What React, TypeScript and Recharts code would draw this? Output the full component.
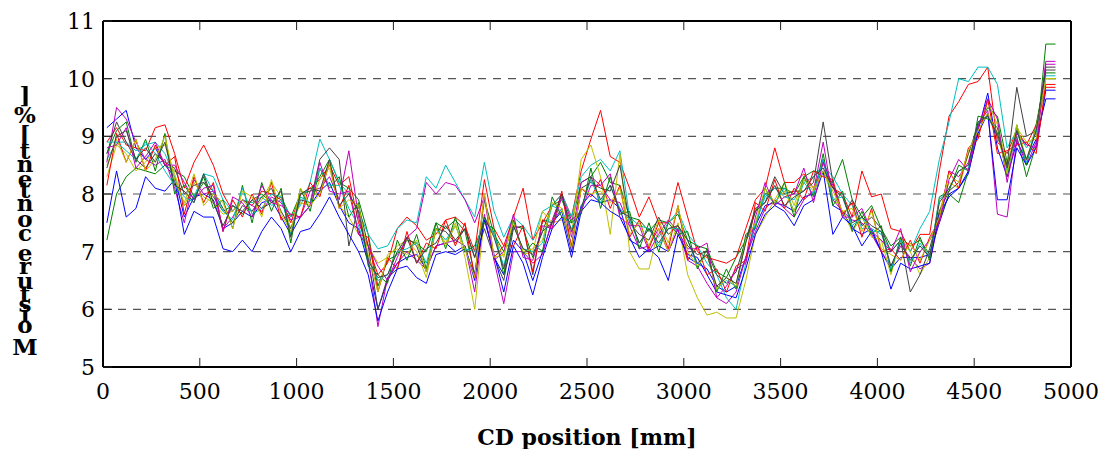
import { LineChart, Line, XAxis, YAxis, CartesianGrid } from 'recharts';

// CD positions [mm] of the scanner samples
const positions = [
  20, 70, 120, 170, 220, 270, 320, 370, 420, 470,
  520, 570, 620, 670, 720, 770, 820, 870, 920, 970,
  1020, 1070, 1120, 1170, 1220, 1270, 1320, 1370, 1420, 1470,
  1520, 1570, 1620, 1670, 1720, 1770, 1820, 1870, 1920, 1970,
  2020, 2070, 2120, 2170, 2220, 2270, 2320, 2370, 2420, 2470,
  2520, 2570, 2620, 2670, 2720, 2770, 2820, 2870, 2920, 2970,
  3020, 3070, 3120, 3170, 3220, 3270, 3320, 3370, 3420, 3470,
  3520, 3570, 3620, 3670, 3720, 3770, 3820, 3870, 3920, 3970,
  4020, 4070, 4120, 4170, 4220, 4270, 4320, 4370, 4420, 4470,
  4520, 4570, 4620, 4670, 4720, 4770, 4820, 4870, 4920,
];

const xTicks = [0, 500, 1000, 1500, 2000, 2500, 3000, 3500, 4000, 4500, 5000];
const yTicks = [5, 6, 7, 8, 9, 10, 11];

// moisture profiles [%], one per scan
const scanB1 = [
  9.15, 9.3, 9.45, 8.8, 8.6, 8.8, 8.5, 8.3, 7.6, 7.95,
  8.0, 7.9, 7.4, 7.5, 7.7, 7.6, 7.85, 7.9, 7.6, 7.3,
  7.6, 7.8, 8.05, 8.2, 7.8, 7.5, 7.4, 6.8, 6.0, 6.5,
  6.8, 6.9, 6.95, 6.7, 7.1, 7.15, 7.0, 7.1, 6.5, 7.6,
  6.9, 6.6, 7.2, 7.0, 6.5, 7.0, 7.5, 7.7, 7.0, 7.8,
  8.0, 7.85, 7.9, 7.75, 7.2, 7.1, 7.0, 7.1, 7.0, 7.4,
  6.9, 6.8, 6.7, 6.4, 6.3, 6.4, 6.9, 7.45, 7.8, 7.85,
  7.8, 7.7, 7.95, 8.0, 8.6, 7.8, 7.7, 7.4, 7.3, 7.4,
  7.0, 6.7, 6.9, 6.9, 6.9, 6.95, 7.5, 8.0, 8.1, 8.35,
  9.1, 9.75, 8.8, 8.3, 8.9, 8.6, 8.95, 9.65, 9.65,
];
const scanG1 = [
  7.2, 8.0, 8.3, 8.45, 8.4, 8.35, 8.5, 8.4, 8.3, 7.95,
  8.2, 7.95, 7.7, 7.8, 7.65, 7.9, 8.0, 7.85, 7.95, 7.6,
  8.0, 8.05, 8.3, 8.6, 8.2, 8.1, 7.9, 7.3, 6.4, 6.85,
  6.95, 7.2, 7.15, 7.0, 7.5, 7.4, 7.55, 7.35, 6.6, 7.9,
  7.3, 7.0, 7.45, 7.4, 6.9, 7.35, 7.8, 7.9, 7.5, 8.2,
  8.3, 8.55, 8.2, 8.15, 7.6, 7.55, 7.35, 7.55, 7.5, 7.65,
  7.2, 7.1, 7.05, 6.65, 6.55, 6.9, 7.2, 7.7, 8.0, 8.1,
  8.1, 8.0, 8.3, 8.4, 8.35, 8.2, 8.6, 7.9, 7.6, 7.8,
  7.4, 7.1, 7.25, 7.1, 7.2, 6.95, 7.55, 8.0, 7.85, 8.4,
  9.2, 9.5, 9.35, 8.55, 9.0, 8.3, 8.85, 10.6, 10.6,
];
const scanR1 = [
  8.9, 9.15, 8.85, 8.8, 8.75, 9.15, 9.2, 8.7, 8.1, 8.55,
  8.85, 8.5, 8.0, 7.7, 7.9, 7.8, 8.05, 8.0, 7.9, 7.5,
  8.0, 8.1, 8.25, 8.5, 8.15, 8.3, 7.5, 7.1, 6.6, 6.8,
  7.4, 7.6, 7.45, 7.2, 7.3, 7.55, 7.6, 7.45, 7.0, 8.25,
  7.4, 7.1, 7.6, 8.1, 7.2, 7.5, 7.8, 8.0, 7.6, 8.4,
  8.95, 9.45, 8.65, 8.55, 8.1, 7.6, 7.95, 7.5, 7.5, 8.2,
  7.6, 7.0, 6.9, 6.85, 6.8, 6.9, 7.4, 7.9, 8.1, 8.8,
  8.2, 8.2, 8.35, 8.1, 8.55, 8.1, 8.0, 7.6, 8.4, 7.95,
  8.0, 7.4, 7.35, 7.0, 7.3, 7.3, 8.4, 9.35, 9.6, 9.9,
  9.95, 10.2, 8.9, 8.7, 9.1, 8.85, 9.2, 9.85, 9.85,
];
const scanC1 = [
  8.6, 8.9, 8.9, 8.75, 8.85, 8.9, 8.7, 8.3, 7.8, 7.95,
  8.35, 8.3, 7.9, 7.7, 7.9, 7.85, 7.95, 7.8, 7.9, 7.6,
  7.8, 8.2, 8.95, 8.6, 8.2, 8.0, 7.7, 7.3, 7.05, 7.1,
  7.4, 7.55, 7.5, 8.3, 8.1, 8.5, 8.2, 7.9, 7.6, 8.55,
  7.7, 7.25, 7.6, 7.45, 7.2, 7.7, 7.8, 8.0, 7.6, 8.3,
  8.5, 8.6, 8.4, 8.75, 7.6, 7.45, 7.4, 7.25, 7.5, 7.7,
  7.3, 7.1, 6.8, 6.6, 6.2, 6.0, 6.8, 7.5, 7.95, 8.1,
  7.95, 7.9, 8.2, 8.3, 8.5, 8.3, 8.0, 7.8, 7.4, 7.4,
  7.3, 7.0, 7.2, 7.0, 7.4, 7.7, 8.6, 9.25, 10.0, 9.95,
  10.2, 10.2, 9.9, 8.8, 9.1, 8.8, 9.05, 10.0, 10.0,
];
const scanM1 = [
  8.55, 9.5, 9.3, 8.9, 8.6, 8.5, 8.6, 8.1, 7.5, 8.25,
  8.0, 8.05, 7.4, 7.6, 7.9, 7.8, 7.7, 7.95, 7.85, 7.55,
  7.6, 8.05, 8.1, 8.3, 7.9, 8.75, 7.6, 6.9, 5.7, 6.55,
  6.8, 7.0, 6.85, 6.7, 7.1, 7.15, 7.2, 7.1, 6.3, 7.65,
  6.85, 6.1, 7.0, 7.0, 6.8, 6.95, 7.55, 8.0, 7.25, 8.2,
  8.3, 8.15, 7.9, 7.85, 7.45, 7.05, 7.1, 7.4, 7.0, 7.4,
  6.85, 6.75, 6.45, 6.2, 6.1, 6.3, 6.9, 7.35, 7.75, 7.9,
  7.75, 7.6, 7.9, 8.05, 8.9, 7.9, 7.7, 7.55, 7.5, 7.3,
  7.0, 6.75, 7.1, 6.9, 6.7, 6.8, 7.6, 8.4, 8.3, 8.55,
  9.2, 9.45, 7.65, 7.6, 8.95, 8.5, 8.9, 10.3, 10.3,
];
const scanY1 = [
  8.3, 8.85, 8.7, 8.4, 8.55, 8.8, 8.85, 8.35, 7.8, 8.2,
  7.95, 7.85, 7.65, 7.7, 7.9, 7.7, 7.9, 8.2, 7.95, 7.4,
  7.85, 7.8, 8.25, 8.45, 7.8, 7.6, 7.3, 7.1, 6.8, 6.9,
  7.1, 7.2, 7.0, 6.55, 7.4, 7.15, 7.5, 6.9, 6.0, 7.6,
  7.3, 6.9, 7.6, 6.95, 7.0, 7.7, 7.5, 7.55, 7.3, 8.6,
  8.85, 8.3, 7.3, 8.7, 7.0, 6.7, 6.7, 7.4, 7.0, 7.5,
  6.6, 6.2, 5.9, 5.95, 5.85, 5.85, 6.5, 7.3, 7.6, 7.9,
  8.2, 7.8, 8.3, 8.1, 8.4, 7.95, 7.7, 7.35, 7.6, 7.25,
  7.2, 6.6, 7.25, 7.0, 6.6, 6.9, 7.7, 8.2, 8.1, 8.7,
  9.0, 9.6, 9.2, 8.5, 9.15, 8.9, 8.95, 10.0, 10.0,
];
const scanK1 = [
  8.7, 9.25, 8.9, 8.6, 8.45, 8.7, 8.55, 8.45, 8.0, 8.15,
  8.2, 8.05, 7.75, 7.5, 7.8, 7.7, 7.95, 8.1, 7.7, 7.4,
  7.9, 7.85, 8.6, 8.8, 8.6, 7.1, 7.8, 7.1, 6.0, 6.55,
  6.7, 7.25, 7.1, 6.65, 7.4, 7.35, 7.15, 7.4, 6.9, 7.4,
  6.9, 6.5, 7.4, 7.45, 6.6, 7.55, 7.5, 7.75, 7.1, 8.1,
  8.2, 8.1, 8.05, 8.5, 7.5, 7.3, 7.2, 7.6, 7.3, 7.45,
  7.1, 6.95, 7.0, 6.6, 6.45, 6.65, 7.2, 7.75, 7.85, 8.3,
  8.0, 8.05, 8.05, 8.2, 9.25, 8.2, 7.6, 7.9, 7.45, 7.6,
  7.4, 7.0, 7.2, 6.3, 6.6, 7.05, 7.7, 8.05, 8.2, 8.7,
  9.2, 9.35, 9.0, 8.5, 9.85, 9.0, 9.1, 10.2, 10.2,
];
const scanB2 = [
  7.5, 8.4, 7.6, 7.75, 8.3, 8.1, 8.05, 8.25, 7.3, 7.7,
  7.6, 7.6, 7.05, 7.0, 7.2, 7.0, 7.35, 7.6, 7.4, 7.0,
  7.35, 7.4, 7.65, 7.95, 7.6, 7.3, 7.0, 6.6, 5.8, 6.3,
  6.7, 6.75, 6.55, 6.45, 6.95, 7.0, 6.95, 7.05, 6.6, 7.55,
  6.95, 6.3, 7.1, 6.8, 6.25, 6.9, 7.4, 7.6, 6.9, 7.7,
  7.9, 7.85, 7.7, 7.6, 7.25, 6.9, 7.05, 6.9, 6.5, 7.3,
  6.95, 6.9, 6.6, 6.3, 6.25, 6.2, 6.7, 7.3, 7.65, 7.8,
  7.7, 7.45, 7.8, 7.9, 8.4, 7.3, 7.6, 7.45, 7.1, 7.35,
  7.0, 6.35, 6.8, 6.7, 6.75, 6.8, 7.65, 7.95, 8.1, 8.4,
  9.05, 9.4, 7.9, 7.9, 8.8, 8.5, 8.8, 9.8, 9.8,
];
const scanG2 = [
  8.7, 9.1, 9.25, 8.55, 8.95, 8.4, 9.05, 8.0, 8.15, 7.9,
  8.3, 7.75, 7.9, 7.4, 8.15, 7.5, 8.2, 7.7, 8.1, 7.15,
  8.1, 7.7, 8.45, 8.1, 8.3, 7.6, 7.85, 6.75, 6.6, 6.45,
  7.2, 6.85, 7.3, 6.7, 7.5, 7.05, 7.6, 7.0, 7.1, 7.5,
  7.4, 6.6, 7.55, 6.95, 7.15, 7.0, 7.95, 7.6, 7.5, 7.65,
  8.45, 7.75, 8.3, 7.65, 7.7, 7.05, 7.5, 7.0, 7.5, 7.3,
  7.35, 6.7, 7.05, 6.3, 6.7, 6.35, 7.3, 7.4, 8.1, 7.8,
  8.2, 7.6, 8.3, 7.95, 8.7, 7.8, 8.05, 7.35, 7.7, 7.3,
  7.45, 6.65, 7.25, 6.75, 7.25, 6.85, 7.95, 8.05, 8.5, 8.4,
  9.35, 9.3, 9.15, 8.3, 9.2, 8.5, 9.2, 10.1, 10.1,
];
const scanR2 = [
  8.15, 9.05, 8.55, 8.95, 8.4, 8.85, 8.5, 8.65, 7.65, 8.3,
  7.85, 8.2, 7.35, 7.9, 7.6, 8.0, 7.65, 8.2, 7.55, 7.65,
  7.6, 8.2, 7.95, 8.55, 7.75, 8.15, 7.3, 7.25, 6.3, 6.9,
  6.7, 7.35, 6.8, 7.15, 7.05, 7.55, 7.1, 7.5, 6.55, 8.0,
  6.9, 7.1, 7.1, 7.45, 6.65, 7.55, 7.4, 8.05, 7.05, 8.1,
  7.95, 8.25, 7.75, 8.15, 7.25, 7.55, 7.05, 7.5, 7.05, 7.8,
  6.85, 7.1, 6.6, 6.7, 6.3, 6.75, 6.85, 7.85, 7.7, 8.25,
  7.75, 8.1, 7.9, 8.4, 8.3, 8.25, 7.65, 7.85, 7.25, 7.75,
  7.0, 7.05, 6.85, 7.2, 6.8, 7.25, 7.55, 8.4, 8.1, 8.8,
  8.95, 9.65, 8.7, 8.75, 8.85, 8.9, 8.7, 9.9, 9.9,
];
const scanC2 = [
  8.9, 8.9, 8.75, 8.6, 8.9, 8.7, 8.4, 8.15, 7.95, 7.85,
  8.35, 8.05, 7.7, 7.55, 8.1, 7.65, 7.75, 8.0, 7.95, 7.3,
  7.95, 7.85, 8.45, 8.15, 8.15, 7.75, 7.45, 6.9, 6.5, 6.6,
  7.0, 7.05, 7.15, 6.8, 7.4, 7.2, 7.45, 7.05, 7.0, 7.6,
  7.3, 6.75, 7.45, 7.05, 7.0, 7.15, 7.8, 7.7, 7.4, 7.75,
  8.25, 7.85, 8.15, 7.75, 7.55, 7.15, 7.4, 7.1, 7.4, 7.4,
  7.2, 6.75, 6.95, 6.35, 6.5, 6.4, 7.2, 7.45, 8.0, 7.85,
  8.1, 7.7, 8.2, 8.0, 8.6, 7.9, 7.95, 7.45, 7.6, 7.35,
  7.35, 6.7, 7.2, 6.8, 7.15, 6.9, 7.9, 8.1, 8.4, 8.45,
  9.25, 9.35, 9.05, 8.4, 9.1, 8.55, 9.1, 10.05, 10.05,
];
const scanM2 = [
  8.8, 8.85, 9.15, 8.45, 8.65, 8.9, 8.5, 8.5, 8.2, 7.9,
  8.1, 8.15, 7.35, 7.95, 7.85, 7.6, 8.15, 7.85, 7.8, 7.65,
  7.6, 7.8, 8.55, 8.05, 8.0, 8.05, 7.3, 7.1, 6.75, 6.5,
  6.9, 7.25, 7.4, 8.2, 8.0, 8.2, 8.15, 7.9, 7.5, 7.95,
  6.85, 7.0, 7.65, 6.9, 6.85, 7.45, 7.4, 7.95, 7.55, 7.7,
  8.15, 8.15, 8.35, 7.6, 7.45, 7.45, 7.0, 7.3, 7.55, 7.35,
  7.05, 7.05, 7.15, 6.2, 6.4, 6.7, 6.8, 7.6, 8.2, 7.8,
  7.95, 8.0, 8.45, 7.85, 8.55, 8.15, 7.6, 7.6, 7.75, 7.35,
  7.2, 7.0, 7.4, 6.65, 7.0, 7.2, 7.5, 8.25, 8.6, 8.4,
  9.15, 9.65, 9.3, 8.2, 9.05, 8.85, 8.8, 10.25, 10.25,
];
const scanY2 = [
  8.5, 8.95, 8.55, 8.95, 8.4, 8.6, 9.0, 8.25, 7.85, 8.35,
  7.8, 8.0, 7.85, 7.4, 8.05, 7.95, 7.6, 8.25, 7.65, 7.35,
  8.1, 7.8, 8.0, 8.55, 7.75, 7.9, 7.8, 6.95, 6.3, 6.95,
  7.05, 6.95, 7.2, 6.65, 7.4, 7.1, 7.45, 7.05, 6.55, 8.0,
  6.9, 6.95, 7.5, 7.0, 7.05, 7.2, 7.85, 7.75, 7.05, 8.1,
  8.0, 8.05, 7.85, 8.1, 7.3, 7.5, 7.1, 7.55, 7.15, 7.8,
  7.0, 6.75, 6.95, 6.35, 6.55, 6.4, 7.2, 7.5, 8.1, 7.85,
  8.05, 7.7, 8.25, 8.05, 8.4, 8.05, 7.7, 7.75, 7.35, 7.7,
  7.05, 6.95, 6.85, 7.15, 6.85, 7.2, 7.6, 8.35, 8.2, 8.75,
  9.1, 9.4, 9.05, 8.35, 9.2, 8.6, 9.15, 10.0, 10.0,
];
const scanK2 = [
  8.45, 9.0, 9.1, 8.6, 8.8, 8.55, 8.9, 8.15, 8.05, 7.85,
  8.35, 7.85, 7.45, 7.8, 7.7, 7.9, 7.75, 7.85, 8.05, 7.25,
  8.0, 8.1, 8.05, 8.6, 7.8, 8.0, 7.7, 6.85, 6.55, 6.6,
  7.0, 7.25, 6.8, 7.05, 7.15, 7.45, 7.2, 7.4, 6.9, 7.6,
  7.25, 6.7, 7.45, 7.05, 6.95, 7.35, 7.5, 8.0, 7.35, 7.75,
  8.3, 7.9, 8.15, 7.7, 7.6, 7.15, 7.4, 7.15, 7.4, 7.45,
  7.2, 6.8, 6.95, 6.4, 6.55, 6.45, 7.15, 7.7, 7.85, 8.15,
  7.8, 7.95, 8.05, 8.3, 8.45, 8.1, 7.95, 7.5, 7.6, 7.45,
  7.35, 6.75, 7.15, 6.85, 7.1, 6.9, 7.85, 8.1, 8.4, 8.5,
  9.25, 9.35, 9.05, 8.45, 9.1, 8.6, 9.1, 10.15, 10.15,
];

// matlab's old default colour order, cycled twice
const scans = [scanB1, scanG1, scanR1, scanC1, scanM1, scanY1, scanK1,
  scanB2, scanG2, scanR2, scanC2, scanM2, scanY2, scanK2];
const colors = ['#0000FF', '#008000', '#FF0000', '#00BFBF', '#BF00BF', '#BFBF00', '#404040'];

const data = positions.map((x, i) => {
  const row: Record<string, number> = { x };
  scans.forEach((s, k) => { row['s' + k] = s[i]; });
  return row;
});

const SERIF = 'DejaVu Serif';

const yTitle = 'Moisture content [%]';
// rough Times bold advance widths (em), used to stack the upright glyphs
const glyphW: Record<string, number> = {
  M: 0.944, o: 0.5, i: 0.278, s: 0.389, t: 0.333, u: 0.556, r: 0.444, e: 0.444,
  ' ': 0.25, c: 0.444, n: 0.556, '[': 0.333, '%': 1.0, ']': 0.333,
};

function StackedTitle() {
  const chars = yTitle.split('');
  const pxPerEm = 29.3;
  let y = 346;
  const items: Array<{ ch: string; y: number }> = [];
  chars.forEach((ch, i) => {
    if (i > 0) y -= ((glyphW[chars[i - 1]] ?? 0.5) + (glyphW[ch] ?? 0.5)) / 2 * pxPerEm;
    if (ch !== ' ') items.push({ ch, y });
  });
  return (
    <svg width={60} height={449} style={{ position: 'absolute', left: 0, top: 0 }}>
      {items.map((it, i) => (
        <text key={i} x={25} y={it.y} textAnchor="middle" dominantBaseline="central"
          fontFamily={SERIF} fontWeight="bold" fontSize={23} fill="#000">
          {it.ch}
        </text>
      ))}
    </svg>
  );
}

function XTick(props: any) {
  const { x, y, payload } = props;
  return (
    <text x={x} y={y} dy={17} textAnchor="middle" fontFamily={SERIF} fontSize={22} fill="#000">
      {payload.value}
    </text>
  );
}

function YTick(props: any) {
  const { x, y, payload } = props;
  return (
    <text x={x} y={y} dy={8} textAnchor="end" fontFamily={SERIF} fontSize={22} fill="#000">
      {payload.value}
    </text>
  );
}

const noLabel = () => <g />;

export default function App() {
  return (
    <div style={{ position: 'absolute', left: 0, top: 0, width: 1102, height: 449, background: '#fff' }}>
      <LineChart width={1102} height={449} data={data} margin={{ top: 20, right: 30, left: 43, bottom: 42 }}>
        <CartesianGrid vertical={false} stroke="#555" strokeWidth={1.2} strokeDasharray="8 7" />
        <XAxis
          dataKey="x"
          type="number"
          domain={[0, 5000]}
          ticks={xTicks}
          interval={0}
          height={40}
          tick={XTick}
          tickSize={-9}
          tickMargin={24}
          axisLine={{ stroke: '#000', strokeWidth: 2 }}
          tickLine={{ stroke: '#222', strokeWidth: 1 }}
        />
        <XAxis
          xAxisId="top"
          orientation="top"
          dataKey="x"
          type="number"
          domain={[0, 5000]}
          ticks={xTicks}
          interval={0}
          height={1}
          tick={noLabel}
          tickSize={-9}
          axisLine={{ stroke: '#000', strokeWidth: 2 }}
          tickLine={{ stroke: '#222', strokeWidth: 1 }}
        />
        <YAxis
          type="number"
          domain={[5, 11]}
          ticks={yTicks}
          interval={0}
          width={60}
          tick={YTick}
          tickSize={-9}
          tickMargin={17}
          axisLine={{ stroke: '#000', strokeWidth: 2 }}
          tickLine={{ stroke: '#222', strokeWidth: 1 }}
        />
        <YAxis
          yAxisId="right"
          orientation="right"
          type="number"
          domain={[5, 11]}
          ticks={yTicks}
          interval={0}
          width={1}
          tick={noLabel}
          tickSize={-9}
          axisLine={{ stroke: '#000', strokeWidth: 2 }}
          tickLine={{ stroke: '#222', strokeWidth: 1 }}
        />
        {scans.map((_, k) => (
          <Line
            key={k}
            type="linear"
            dataKey={'s' + k}
            stroke={colors[k % colors.length]}
            strokeWidth={1}
            dot={false}
            isAnimationActive={false}
          />
        ))}
      </LineChart>
      <StackedTitle />
      <div style={{ position: 'absolute', left: 387, top: 423, width: 400, textAlign: 'center', fontWeight: 'bold', fontSize: 22, lineHeight: '28px', color: '#000', fontFamily: SERIF }}>
        CD position [mm]
      </div>
    </div>
  );
}
